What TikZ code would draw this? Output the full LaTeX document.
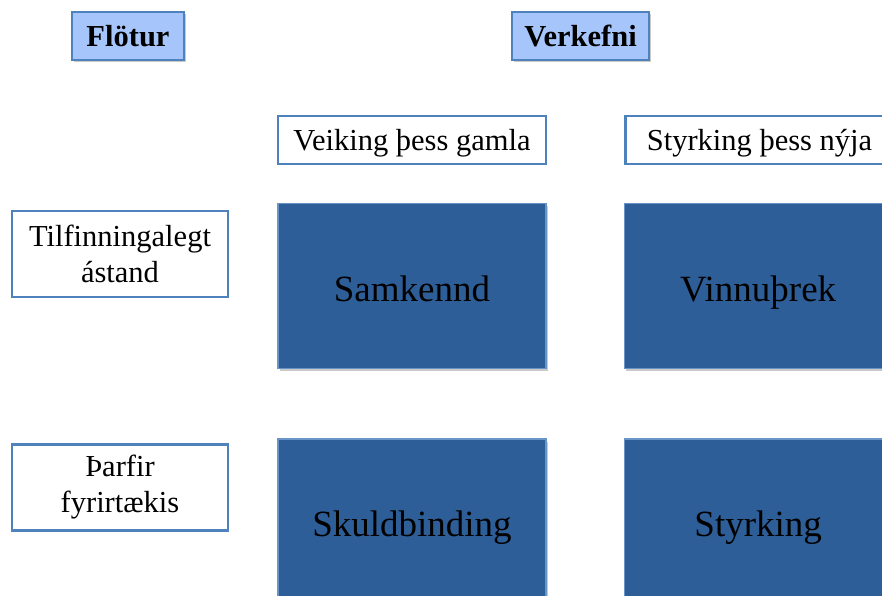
\documentclass[tikz,border=0pt]{standalone}
\usepackage{fontspec}
\setmainfont{Liberation Serif}
\usetikzlibrary{positioning,shadows}

\definecolor{hdrfill}{RGB}{166,197,250}
\definecolor{edgeblue}{RGB}{79,129,189}
\definecolor{cellfill}{RGB}{46,94,152}

\begin{document}
\begin{tikzpicture}[x=1pt, y=-1pt, node distance=38pt,
    hdr/.style={rectangle, draw=edgeblue, line width=1.2pt, fill=hdrfill, minimum height=48pt, inner sep=0pt, font=\fontsize{30.5}{36}\selectfont\bfseries, drop shadow={shadow xshift=1.5pt, shadow yshift=-2.5pt, opacity=.35, fill=black!60}},
    subhead/.style={rectangle, draw=edgeblue, line width=2.5pt, fill=white, minimum width=268pt, minimum height=48pt, inner sep=0pt, text height=20pt, text depth=0pt, font=\fontsize{30.5}{36}\selectfont},
    rowlabel/.style={rectangle, draw=edgeblue, line width=2.5pt, fill=white, minimum width=216pt, minimum height=86pt, inner sep=0pt, align=center, font=\fontsize{30.5}{36}\selectfont},
    cell/.style={rectangle, draw=edgeblue!85, line width=1.2pt, fill=cellfill, minimum width=268pt, minimum height=165pt, inner sep=0pt, text height=30pt, text depth=0pt, font=\fontsize{37}{44}\selectfont, drop shadow={shadow xshift=1.5pt, shadow yshift=-2.5pt, opacity=.35, fill=black!60}}]

    \useasboundingbox (0,0) rectangle (882,596);

    % Headings
    \node[hdr, minimum width=112pt] (flotur) at (128,36) {Flötur};
    \node[hdr, minimum width=137pt] (verkefni) at (580.5,36) {Verkefni};

    % Columns
    \node[subhead] (veiking) at (412,140) {Veiking þess gamla};
    \node[subhead, right=77pt of veiking] (styrkingnyja) {Styrking þess nýja};

    % Rows
    \node[rowlabel] (tilfinning) at (120,254) {Tilfinningalegt\\ástand};
    \node[rowlabel] (tharfir) at (120,487.5) {Þarfir\\fyrirtækis};

    % Cells
    \node[cell, below=of veiking] (samkennd) {Samkennd};
    \node[cell, right=77pt of samkennd] (vinnuthrek) {Vinnuþrek};
    \node[cell, below=69pt of samkennd] (skuldbinding) {Skuldbinding};
    \node[cell, right=77pt of skuldbinding] (styrking) {Styrking};

\end{tikzpicture}
\end{document}
